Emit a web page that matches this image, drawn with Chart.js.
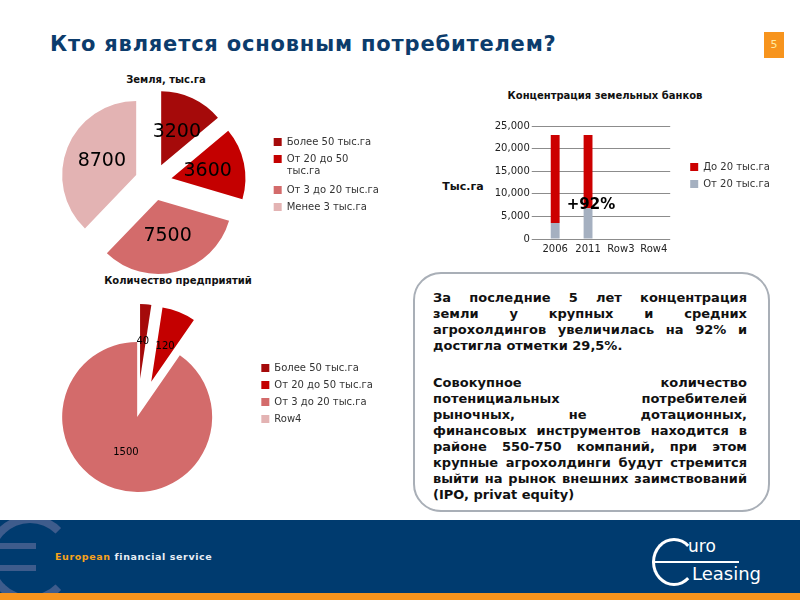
<!DOCTYPE html>
<html>
<head>
<meta charset="utf-8">
<script src="https://cdn.jsdelivr.net/npm/chart.js@4.4.0/dist/chart.umd.min.js"></script>
<style>
  body { margin: 0; width: 800px; height: 600px; position: relative; overflow: hidden; background: #fff; font-family: "DejaVu Sans", sans-serif; }
  .abs { position: absolute; }
  canvas { position: absolute; }
  .heading { left: 50px; top: 32px; font-size: 21px; font-weight: bold; color: #0c3c6c; letter-spacing: 0.8px; white-space: nowrap; }
  .pageno { left: 764px; top: 32px; width: 20px; height: 26px; background: #f7941d; color: #ffeaa0; font-size: 11px; line-height: 26px; text-align: center; }
  .ctitle { font-size: 10px; font-weight: bold; color: #111; text-align: center; line-height: 12px; white-space: nowrap; }
  .note { left: 413px; top: 272px; width: 353px; height: 236px; border: 2px solid #a9afb7; border-radius: 28px; }
  .note .txt { position: absolute; left: 18px; top: 16px; width: 314px; font-size: 13px; font-weight: bold; line-height: 16px; color: #111; }
  .note .j { text-align: justify; text-align-last: justify; white-space: nowrap; }
  .footer { left: 0; top: 520px; width: 800px; height: 73px; background: #003b6f; overflow: hidden; }
  .stripe { left: 0; top: 593px; width: 800px; height: 7px; background: #f7941d; }
</style>
</head>
<body>

<div class="abs heading">Кто является основным потребителем?</div>
<div class="abs pageno">5</div>

<div class="abs ctitle" style="left:66px; top:74px; width:200px;">Земля, тыс.га</div>
<div class="abs ctitle" style="left:78px; top:275px; width:200px;">Количество предприятий</div>
<div class="abs ctitle" style="left:455px; top:90px; width:300px;">Концентрация земельных банков</div>
<div class="abs ctitle" style="left:433px; top:181px; width:60px; font-size:11px;">Тыс.га</div>

<canvas id="land" width="358" height="195" style="left:40px; top:85px;"></canvas>
<canvas id="firms" width="376" height="200" style="left:20px; top:300px;"></canvas>
<canvas id="conc" width="370" height="179" style="left:420px; top:80px;"></canvas>

<div class="abs" style="left:551px; top:195px; width:80px; text-align:center; font-size:15px; font-weight:bold; line-height:18px; color:#000;">+92%</div>

<div class="abs note">
  <div class="txt">
    <div class="j">За последние 5 лет концентрация</div>
    <div class="j">земли у крупных и средних</div>
    <div class="j">агрохолдингов увеличилась на 92% и</div>
    <div>достигла отметки 29,5%.</div>
    <div style="height:21px"></div>
    <div class="j">Совокупное количество</div>
    <div class="j">потенициальных потребителей</div>
    <div class="j">рыночных, не дотационных,</div>
    <div class="j">финансовых инструментов находится в</div>
    <div class="j">районе 550-750 компаний, при этом</div>
    <div class="j">крупные агрохолдинги будут стремится</div>
    <div class="j">выйти на рынок внешних заимствований</div>
    <div>(IPO, privat equity)</div>
  </div>
</div>

<div class="abs footer">
  <div class="abs" style="left:-14px; top:-5px; width:72px; height:72px; border:8px solid #3e5c8c; border-right-color:transparent; border-radius:50%;"></div>
  <div class="abs" style="left:0; top:23px; width:36px; height:6px; background:#3e5c8c;"></div>
  <div class="abs" style="left:0; top:45px; width:36px; height:6px; background:#3e5c8c;"></div>
  <div class="abs" style="left:55px; top:31px; font-size:9.5px; font-weight:bold; letter-spacing:0.6px; white-space:nowrap;"><span style="color:#f7a21b;">European</span> <span style="color:#e8eef5;">financial service</span></div>
  <div class="abs" style="left:652px; top:18px; width:38px; height:42px; border:3px solid #fff; border-right-color:transparent; border-radius:50%;"></div>
  <div class="abs" style="left:688px; top:16px; font-size:17px; color:#fff; line-height:20px;">uro</div>
  <div class="abs" style="left:655px; top:41px; width:84px; height:2px; background:#fff;"></div>
  <div class="abs" style="left:692px; top:43px; font-size:18px; color:#fff; line-height:22px;">Leasing</div>
</div>
<div class="abs stripe"></div>

<script>
// land by farm size, thousand ha
const landLabels = ['Более 50 тыс.га', ['От 20 до 50', 'тыс.га'], 'От 3 до 20 тыс.га', 'Менее 3 тыс.га'];
const landValues = [3200, 3600, 7500, 8700];

// number of enterprises
const firmLabels = ['Более 50 тыс.га', 'От 20 до 50 тыс.га', 'От 3 до 20 тыс.га', 'Row4'];
const firmValues = [40, 120, 1500, 0];

// land bank concentration
const years = ['2006', '2011', 'Row3', 'Row4'];
const largeHoldings = [3540, 6800, null, null];   // От 20 тыс.га
const smallHoldings = [19460, 16200, null, null]; // До 20 тыс.га

Chart.defaults.font.family = '"DejaVu Sans", sans-serif';
Chart.defaults.font.size = 10;
Chart.defaults.color = '#222';
Chart.defaults.animation = false;

const sliceColors = ['#a50a0a', '#c40000', '#d36b6b', '#e3b3b3'];

// legend box width as chart.js computes it (padding + box + gap + text + padding)
function legendWidth(labels) {
  const ctx = document.createElement('canvas').getContext('2d');
  ctx.font = '10px "DejaVu Sans", sans-serif';
  let w = 0;
  labels.flat().forEach(t => { w = Math.max(w, ctx.measureText(t).width); });
  return Math.ceil(7 + 8 + 5 + w + 7) + 1;
}

// pulls slices out from the centre and writes the values on them
const explode = {
  id: 'explode',
  beforeDatasetDraw(chart, args, opts) {
    const ctx = chart.ctx;
    args.meta.data.forEach((arc, i) => {
      const mid = (arc.startAngle + arc.endAngle) / 2;
      const d = opts.offsets[i] || 0;
      ctx.save();
      ctx.translate(Math.cos(mid) * d, Math.sin(mid) * d);
      arc.draw(ctx);
      ctx.restore();
    });
    return false;
  },
  afterDatasetsDraw(chart, args, opts) {
    const ctx = chart.ctx;
    const values = chart.data.datasets[0].data;
    ctx.save();
    ctx.font = opts.labelSize + 'px "DejaVu Sans"';
    ctx.fillStyle = '#000';
    ctx.textAlign = 'center';
    ctx.textBaseline = 'middle';
    chart.getDatasetMeta(0).data.forEach((arc, i) => {
      if (!values[i]) return;
      const mid = (arc.startAngle + arc.endAngle) / 2;
      const r = (opts.offsets[i] || 0) + arc.outerRadius / 2;
      ctx.fillText(String(values[i]), arc.x + Math.cos(mid) * r, arc.y + Math.sin(mid) * r);
    });
    ctx.restore();
  }
};

function pieLegend() {
  return {
    position: 'right', align: 'start', fullSize: false, maxWidth: 300,
    labels: { boxWidth: 8, boxHeight: 8, padding: 7, color: '#333', font: { size: 10 } }
  };
}

const landCanvas = document.getElementById('land');
landCanvas.width = 228 + legendWidth(landLabels) + 4;
new Chart(landCanvas, {
  type: 'pie',
  data: {
    labels: landLabels,
    datasets: [{ data: landValues, backgroundColor: sliceColors, borderWidth: 0, radius: 74 }]
  },
  options: {
    responsive: false,
    layout: { padding: { top: 45, bottom: 46, left: 0, right: 4 } },
    plugins: {
      legend: pieLegend(),
      tooltip: { enabled: false },
      explode: { offsets: [18.5, 18.5, 18.5, 18.5], labelSize: 19 }
    }
  },
  plugins: [explode]
});

const firmCanvas = document.getElementById('firms');
firmCanvas.width = 236 + legendWidth(firmLabels) + 4;
new Chart(firmCanvas, {
  type: 'pie',
  data: {
    labels: firmLabels,
    datasets: [{ data: firmValues, backgroundColor: sliceColors, borderWidth: 0, radius: 75 }]
  },
  options: {
    responsive: false,
    layout: { padding: { top: 56, bottom: 22, left: 0, right: 4 } },
    plugins: {
      legend: pieLegend(),
      tooltip: { enabled: false },
      explode: { offsets: [38, 38, 0, 0], labelSize: 10 }
    }
  },
  plugins: [explode]
});

const concCanvas = document.getElementById('conc');
concCanvas.width = 265.75 + legendWidth(['До 20 тыс.га', 'От 20 тыс.га']) + 4;
new Chart(concCanvas, {
  type: 'bar',
  data: {
    labels: years,
    datasets: [
      { label: 'От 20 тыс.га', data: largeHoldings, backgroundColor: '#a5b0c0' },
      { label: 'До 20 тыс.га', data: smallHoldings, backgroundColor: '#cc0000' }
    ]
  },
  options: {
    responsive: false,
    datasets: { bar: { categoryPercentage: 1, barPercentage: 0.27 } },
    layout: { padding: { left: 58.75, right: 4, top: 46, bottom: 0 } },
    scales: {
      x: {
        stacked: true,
        grid: { display: false, drawTicks: false },
        border: { display: false },
        ticks: { padding: 4, color: '#222', maxRotation: 0, minRotation: 0, autoSkip: false },
        afterFit: s => { s.height = 20; }
      },
      y: {
        stacked: true, min: 0, max: 25000,
        ticks: { stepSize: 5000, padding: 2, color: '#222', callback: v => v.toLocaleString('en-US') },
        grid: { color: '#8c8c8c', tickLength: 7 },
        border: { display: false },
        afterFit: s => { s.width = 60; }
      },
      gap: {
        position: 'right', display: true,
        grid: { display: false }, ticks: { display: false }, border: { display: false },
        afterFit: s => { s.width = 13; }
      }
    },
    plugins: {
      legend: {
        position: 'right', align: 'start', fullSize: false, reverse: true, maxWidth: 300,
        title: { display: true, text: ' ', font: { size: 10 }, padding: { top: 17, bottom: 0 } },
        labels: { boxWidth: 8, boxHeight: 8, padding: 7, color: '#333' }
      },
      tooltip: { enabled: false }
    }
  }
});
</script>
</body>
</html>
